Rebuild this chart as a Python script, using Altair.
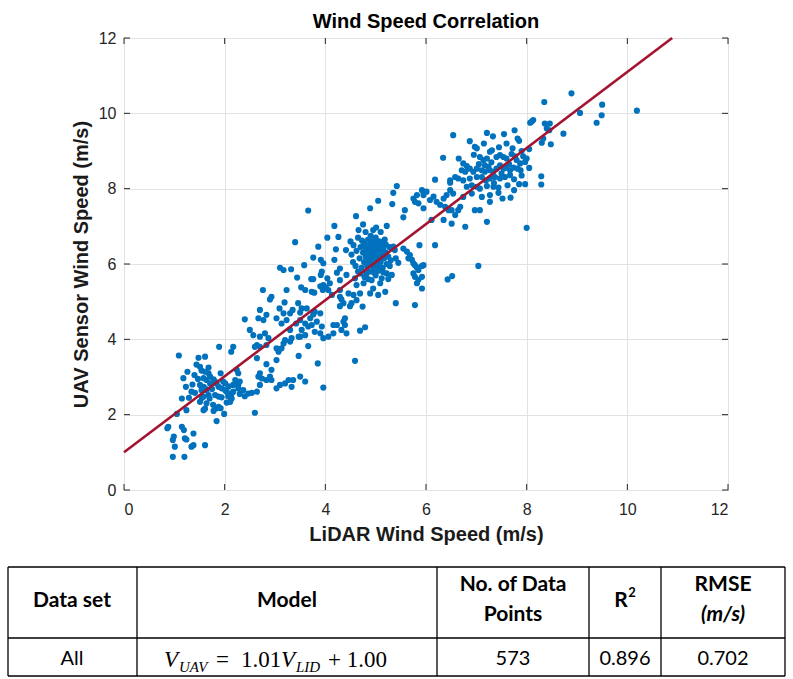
import altair as alt
import pandas as pd

TITLE = "Wind Speed Correlation"
X_TITLE = "LiDAR Wind Speed (m/s)"
Y_TITLE = "UAV Sensor Wind Speed (m/s)"
TICKS = [0, 2, 4, 6, 8, 10, 12]
AXIS_MAX = 12
SLOPE = 1.01
INTERCEPT = 1.00

# (LiDAR, UAV) pairs, grouped by region
low_cluster = [
    (1.09, 3.57), (1.48, 3.51), (1.61, 3.54), (1.89, 3.80), (2.13, 3.67), (2.17, 3.80), (1.44, 3.33),
    (1.51, 3.27), (1.54, 3.17), (1.61, 3.14), (1.68, 3.10), (1.71, 3.01), (1.26, 3.14), (1.18, 2.97),
    (1.58, 2.97), (1.64, 2.92), (1.78, 2.94), (1.81, 2.88), (1.23, 2.74), (1.84, 2.83), (1.88, 2.74),
    (1.94, 2.70), (2.01, 2.65), (2.04, 2.61), (1.58, 2.74), (1.61, 2.70), (1.64, 2.65), (1.54, 2.65),
    (1.34, 2.61), (1.41, 2.58), (1.15, 2.43), (1.68, 2.52), (1.70, 2.43), (1.51, 2.34), (1.88, 2.48),
    (1.94, 2.46), (2.07, 2.49), (2.14, 2.56), (2.14, 2.43), (2.11, 2.34), (2.04, 2.32), (1.61, 2.16),
    (1.58, 2.12), (1.78, 2.10), (1.88, 2.21), (1.92, 2.17), (1.24, 2.12), (1.05, 2.02), (1.84, 1.83),
    (1.99, 2.02), (0.86, 1.64), (0.88, 1.68), (1.15, 1.68), (1.19, 1.59), (1.38, 1.50), (0.99, 1.42),
    (0.97, 1.33), (1.21, 1.37), (1.24, 1.34), (1.01, 1.15), (1.34, 1.15), (1.38, 1.19), (1.61, 1.19),
    (0.97, 0.88), (1.20, 0.88), (2.17, 2.79), (2.24, 3.19), (2.27, 3.10), (2.21, 2.92), (2.01, 2.83),
    (1.51, 2.79), (1.71, 2.83), (2.17, 2.61), (2.11, 2.48), (1.81, 2.52), (1.64, 2.30), (1.58, 2.48),
    (1.77, 2.26), (1.84, 2.17), (1.47, 2.95), (1.36, 2.80), (1.29, 2.45), (1.68, 3.25), (1.92, 3.10),
    (1.40, 3.05), (1.55, 2.45), (1.75, 2.68), (1.97, 2.88), (2.08, 2.75),
]

mid_low_cluster = [
    (2.27, 2.79), (2.30, 2.88), (2.27, 2.70), (2.37, 2.65), (2.30, 2.55), (2.40, 2.49), (2.47, 2.56),
    (2.54, 2.58), (2.64, 2.61), (2.60, 2.05), (2.70, 2.79), (2.64, 3.50), (2.50, 4.25), (2.57, 4.11),
    (2.70, 4.07), (2.80, 4.16), (2.87, 4.03), (2.64, 3.85), (2.60, 3.80), (2.70, 3.80), (2.83, 3.85),
    (3.03, 3.76), (3.07, 3.67), (3.13, 3.76), (3.17, 3.89), (3.20, 3.98), (3.30, 3.94), (3.33, 4.03),
    (3.47, 4.07), (3.47, 3.56), (3.03, 3.45), (3.30, 4.25), (2.83, 3.34), (2.93, 3.19), (2.90, 3.01),
    (2.83, 2.92), (2.74, 2.96), (2.67, 3.01), (2.70, 3.10), (2.93, 2.92), (3.03, 2.70), (3.10, 2.79),
    (3.20, 2.83), (3.27, 2.92), (3.36, 2.92), (3.33, 2.74), (3.50, 3.01), (3.60, 2.88), (3.85, 3.36),
    (3.96, 2.72), (4.59, 3.43), (3.66, 3.82), (3.96, 4.03), (4.06, 4.07), (3.50, 4.07), (3.60, 4.11),
    (3.90, 4.16), (4.16, 4.16), (4.42, 4.16), (4.32, 4.25), (3.79, 4.20), (3.53, 4.25),
]

mid_cluster = [
    (3.52, 5.38), (3.60, 5.31), (3.73, 5.26), (3.78, 5.24), (3.90, 5.41), (3.95, 5.31), (4.01, 5.38),
    (4.06, 5.31), (4.29, 5.31), (4.32, 5.06), (3.35, 4.78), (3.53, 4.82), (3.50, 4.71), (3.70, 4.56),
    (3.76, 4.66), (3.90, 4.69), (4.29, 4.88), (4.39, 4.56), (4.36, 4.47), (4.49, 4.88), (3.44, 5.64),
    (3.72, 5.60), (3.76, 5.60), (3.93, 5.80), (3.91, 5.71), (4.04, 5.62), (4.23, 5.77), (4.09, 5.49),
    (3.19, 4.98), (3.09, 4.82), (3.23, 5.31), (2.76, 5.31), (2.93, 5.13), (2.90, 5.06), (2.40, 4.53),
    (2.67, 4.56), (2.70, 4.78), (2.83, 4.65), (3.03, 4.56), (3.13, 4.42), (3.23, 4.51), (3.42, 4.42),
    (3.60, 4.42), (3.66, 4.34), (3.73, 4.38), (3.83, 4.47), (3.93, 4.34), (4.16, 4.38), (4.42, 5.71),
    (3.96, 5.44), (4.29, 5.57), (4.36, 4.96), (4.29, 5.13), (4.13, 5.18), (3.50, 4.51), (4.23, 4.38),
    (4.39, 4.38), (2.77, 4.51), (3.63, 4.82), (3.79, 4.73), (3.17, 4.69), (3.30, 4.69), (3.46, 4.96),
    (3.10, 5.90), (3.17, 5.84), (3.32, 5.86), (3.58, 5.97), (3.40, 6.58), (3.66, 7.42), (4.18, 7.01),
    (4.04, 6.70), (4.26, 6.72), (3.86, 6.46), (4.21, 6.39), (4.41, 6.37), (3.76, 6.17), (3.91, 6.11),
    (4.18, 6.11), (3.96, 6.02), (4.29, 5.88),
]

blob_cluster = [
    (5.02, 6.55), (5.20, 6.52), (4.56, 6.50), (4.50, 6.60), (4.52, 6.25), (4.55, 6.05), (4.60, 5.95),
    (4.62, 6.35), (4.65, 6.70), (4.68, 6.15), (4.70, 6.45), (4.72, 5.90), (4.73, 6.62), (4.75, 6.30),
    (4.77, 6.05), (4.78, 6.55), (4.80, 6.20), (4.80, 6.85), (4.82, 6.40), (4.83, 5.95), (4.85, 6.65),
    (4.86, 6.10), (4.88, 6.30), (4.88, 6.50), (4.90, 6.00), (4.90, 6.75), (4.92, 6.20), (4.93, 6.40),
    (4.94, 6.60), (4.95, 5.90), (4.96, 6.10), (4.97, 6.30), (4.98, 6.50), (5.00, 6.70), (5.00, 6.05),
    (5.02, 6.25), (5.03, 6.40), (5.05, 5.95), (5.06, 6.15), (5.07, 6.60), (5.08, 6.35), (5.10, 6.05),
    (5.11, 6.50), (5.12, 6.25), (5.14, 5.90), (5.15, 6.40), (5.17, 6.15), (5.18, 6.65), (5.20, 6.30),
    (5.22, 6.00), (5.25, 6.20), (5.27, 6.45), (5.28, 5.95), (5.30, 6.10), (4.66, 6.90), (4.75, 7.05),
    (4.95, 6.90), (5.10, 6.85), (4.85, 6.00), (4.92, 6.15), (4.98, 6.22), (4.87, 6.42), (4.79, 6.33),
    (5.04, 6.12), (4.99, 5.98), (4.84, 6.18), (4.91, 6.55), (5.01, 6.38), (4.76, 6.48), (5.13, 6.58),
    (4.70, 5.75), (4.88, 5.80), (5.00, 5.70), (5.05, 5.82), (4.78, 5.65), (4.96, 5.78), (5.15, 5.78),
    (4.65, 5.80), (4.85, 5.60), (5.25, 5.60), (4.59, 5.62), (4.62, 5.44), (4.76, 5.49), (4.82, 5.75),
    (4.92, 5.57), (4.95, 5.35), (5.09, 5.49), (5.12, 5.62), (5.22, 5.75), (5.32, 5.71), (4.89, 5.22),
    (5.05, 5.18), (5.19, 5.26), (4.69, 5.22), (4.56, 5.18), (4.46, 5.22), (4.62, 5.04), (4.52, 4.96),
    (4.74, 4.87), (4.69, 4.23), (4.79, 4.32), (5.40, 4.96), (5.78, 4.91),
]

tail_cluster = [
    (5.62, 6.33), (5.68, 6.24), (5.65, 6.15), (5.72, 6.11), (5.75, 6.02), (5.78, 5.97), (5.82, 5.91),
    (5.85, 5.84), (5.92, 5.95), (5.95, 5.97), (5.75, 5.75), (5.78, 5.66), (5.92, 5.66), (5.85, 5.58),
    (5.82, 5.49), (5.92, 5.35), (5.55, 6.41), (5.87, 6.50), (6.18, 6.50), (5.35, 6.46), (5.38, 6.37),
    (5.45, 6.03), (5.40, 6.15), (7.04, 5.95), (6.43, 5.59), (6.52, 5.68),
]

upper_mid_cluster = [
    (5.42, 8.07), (5.35, 7.89), (5.05, 7.68), (5.33, 7.59), (4.89, 7.48), (5.58, 7.43), (5.55, 7.24),
    (5.22, 7.01), (5.01, 6.97), (5.75, 7.74), (5.82, 7.83), (5.92, 7.96), (5.95, 7.83), (6.01, 7.92),
    (5.78, 7.65), (5.85, 7.61), (5.95, 7.48), (6.08, 7.70), (6.15, 7.79), (6.21, 7.65), (6.28, 7.57),
    (6.35, 7.74), (6.41, 7.83), (6.48, 7.96), (6.38, 7.52), (6.45, 7.43), (6.48, 8.16), (6.11, 7.17),
    (6.35, 7.17), (4.61, 7.27),
]

high_cluster = [
    (7.76, 9.55), (7.82, 9.33), (7.85, 9.27), (7.72, 9.07), (7.21, 9.48), (7.33, 9.39), (6.54, 9.42),
    (6.87, 9.26), (6.97, 9.11), (7.01, 9.07), (7.31, 9.02), (7.27, 8.98), (6.34, 8.82), (6.18, 8.24),
    (7.40, 8.84), (7.47, 8.89), (7.54, 8.84), (7.60, 8.80), (7.70, 8.92), (7.77, 8.86), (7.80, 8.76),
    (7.87, 8.67), (7.93, 8.86), (7.97, 8.71), (8.00, 8.80), (7.07, 8.84), (7.14, 8.76), (7.21, 8.80),
    (7.17, 8.62), (7.24, 8.58), (6.74, 8.67), (6.81, 8.60), (6.71, 8.49), (6.78, 8.45), (6.87, 8.53),
    (6.94, 8.45), (7.01, 8.53), (7.11, 8.49), (7.17, 8.45), (7.27, 8.49), (7.34, 8.45), (7.40, 8.53),
    (7.47, 8.62), (7.54, 8.53), (7.60, 8.56), (7.67, 8.49), (7.74, 8.56), (7.82, 8.53), (7.88, 8.49),
    (6.58, 8.31), (6.48, 8.22), (6.64, 8.27), (6.74, 8.22), (6.87, 8.27), (7.01, 8.31), (7.11, 8.31),
    (7.19, 8.22), (7.27, 8.27), (7.37, 8.31), (7.47, 8.27), (7.57, 8.31), (7.67, 8.36), (7.85, 8.12),
    (7.97, 8.12), (7.75, 7.96), (6.81, 8.05), (6.91, 8.09), (7.01, 8.05), (7.07, 8.00), (7.21, 8.07),
    (7.34, 8.05), (7.44, 8.03), (7.62, 8.09), (6.74, 7.78), (6.91, 7.87), (7.11, 7.78), (7.27, 7.83),
    (7.44, 7.89), (7.52, 7.74), (7.68, 7.76), (6.54, 7.87), (6.97, 7.43), (7.07, 7.43), (7.21, 7.12),
    (7.27, 7.65), (6.78, 6.99), (6.51, 7.43), (6.58, 7.30), (6.64, 7.43), (6.68, 7.52), (6.51, 7.07),
    (8.00, 6.96), (7.30, 8.70), (7.50, 8.40), (7.65, 8.65), (7.05, 8.65), (7.45, 9.10), (7.60, 9.20),
    (7.90, 9.00), (7.15, 9.20), (6.95, 8.90), (6.65, 8.80), (7.35, 8.15), (7.75, 8.25), (7.90, 8.35),
    (8.05, 8.55), (8.05, 9.05), (7.55, 9.45),
]

top_cluster = [
    (8.89, 10.53), (9.50, 10.23), (9.49, 9.95), (9.39, 9.75), (9.06, 10.01), (8.73, 9.46), (8.35, 10.30),
    (8.46, 9.73), (8.36, 9.73), (8.07, 9.75), (8.13, 9.82), (8.10, 9.78), (8.40, 9.60), (8.45, 9.55),
    (8.33, 9.33), (8.30, 9.22), (8.48, 9.18), (8.29, 8.33), (8.29, 8.11), (10.19, 10.07),
]

# Table contents
HEADERS = ["Data set", "Model", "No. of Data", "Points", "R", "2", "RMSE", "(m/s)"]
ROW = ["All", "573", "0.896", "0.702"]

# ---------------------------------------------------------------------------
pairs = (low_cluster + mid_low_cluster + mid_cluster + blob_cluster + tail_cluster
         + upper_mid_cluster + high_cluster + top_cluster)
points = pd.DataFrame(pairs, columns=["lidar", "uav"])

x_end = (AXIS_MAX - INTERCEPT) / SLOPE
fit = pd.DataFrame({"lidar": [0.0, x_end], "uav": [INTERCEPT, INTERCEPT + SLOPE * x_end]})

W, H = 604, 452
OX, OY = 124, 38  # plot origin on the page
INK = "#262626"

xs = alt.Scale(domain=[0, AXIS_MAX], nice=False, zero=False)
ys = alt.Scale(domain=[0, AXIS_MAX], nice=False, zero=False)
xaxis = alt.Axis(values=TICKS, title=X_TITLE, grid=True, ticks=False, domain=False,
                 labelPadding=11, titlePadding=7)
yaxis = alt.Axis(values=TICKS, title=Y_TITLE, grid=True, ticks=False, domain=False,
                 labelPadding=8, titlePadding=7)
X = alt.X("lidar:Q", scale=xs, axis=xaxis)
Y = alt.Y("uav:Q", scale=ys, axis=yaxis)

scatter = alt.Chart(points).mark_circle(size=38, opacity=1, color="#0072BD").encode(x=X, y=Y)
line = alt.Chart(fit).mark_line(color="#A2142F", strokeWidth=2.6).encode(x=X, y=Y)

xt = pd.DataFrame({"lidar": TICKS})
yt = pd.DataFrame({"uav": TICKS})
tick_layers = [
    alt.Chart(xt).mark_rule(color=INK).encode(x=X, y=alt.value(H), y2=alt.value(H - 6)),
    alt.Chart(xt).mark_rule(color=INK).encode(x=X, y=alt.value(0), y2=alt.value(6)),
    alt.Chart(yt).mark_rule(color=INK).encode(y=Y, x=alt.value(0), x2=alt.value(6)),
    alt.Chart(yt).mark_rule(color=INK).encode(y=Y, x=alt.value(W), x2=alt.value(W - 6)),
]

dummy = pd.DataFrame({"k": [0]})


def rule(x1, y1, x2, y2):
    return alt.Chart(dummy).mark_rule(color="black", strokeWidth=1.3).encode(
        x=alt.value(x1 - OX), x2=alt.value(x2 - OX), y=alt.value(y1 - OY), y2=alt.value(y2 - OY))


def txt(s, px, py, size=21, weight="bold", style="normal", font="Lato", align="center",
        baseline="middle"):
    return alt.Chart(dummy).mark_text(
        text=s, font=font, fontSize=size, fontWeight=weight, fontStyle=style, align=align,
        baseline=baseline, color="black").encode(x=alt.value(px - OX), y=alt.value(py - OY))


T_TOP, T_MID, T_BOT = 567, 638, 676
COLS = [8, 137, 437, 589, 661, 785]
table = [rule(COLS[0], y, COLS[-1], y) for y in (T_TOP, T_MID, T_BOT)]
table += [rule(c, T_TOP, c, T_BOT) for c in COLS]

HY, HY1, HY2, BY = 601, 585, 615, 659
table += [
    txt(HEADERS[0], 72, HY), txt(HEADERS[1], 287, HY),
    txt(HEADERS[2], 513, HY1), txt(HEADERS[3], 513, HY2),
    txt(HEADERS[4], 621, HY), txt(HEADERS[5], 632, HY - 8, size=13),
    txt(HEADERS[6], 723, HY1), txt(HEADERS[7], 723, HY2, style="italic"),
    txt(ROW[0], 72, BY, size=20, weight="normal"), txt(ROW[1], 513, BY, size=20, weight="normal"),
    txt(ROW[2], 625, BY, size=20, weight="normal"), txt(ROW[3], 723, BY, size=20, weight="normal"),
]
FB = 667
serif = "Liberation Serif"
table += [
    txt("V", 164, FB, size=23, weight="normal", style="italic", font=serif, align="left", baseline="alphabetic"),
    txt("UAV", 179, FB + 5, size=15, weight="normal", style="italic", font=serif, align="left", baseline="alphabetic"),
    txt("=", 216, FB, size=23, weight="normal", font=serif, align="left", baseline="alphabetic"),
    txt("1.01", 241, FB, size=23, weight="normal", font=serif, align="left", baseline="alphabetic"),
    txt("V", 281, FB, size=23, weight="normal", style="italic", font=serif, align="left", baseline="alphabetic"),
    txt("LID", 296, FB + 5, size=15, weight="normal", style="italic", font=serif, align="left", baseline="alphabetic"),
    txt("+ 1.00", 328, FB, size=23, weight="normal", font=serif, align="left", baseline="alphabetic"),
]

chart = alt.layer(scatter, line, *tick_layers, *table).properties(
    width=W, height=H,
    title=alt.TitleParams(TITLE, font="Liberation Sans", fontSize=20, fontWeight="bold",
                          color="black", anchor="middle", offset=-2),
    autosize=alt.AutoSizeParams(type="none"),
    padding={"left": OX, "top": OY, "right": 793 - OX - W, "bottom": 679 - OY - H},
).configure_view(stroke=INK, strokeWidth=1).configure_axis(
    labelFont="Liberation Sans", labelFontSize=16, labelColor=INK,
    titleFont="Liberation Sans", titleFontSize=20, titleFontWeight="bold", titleColor="#1a1a1a",
    gridColor="#e2e2e2", gridWidth=1,
)

chart.save("out.html", embed_options={"renderer": "svg", "actions": False})
